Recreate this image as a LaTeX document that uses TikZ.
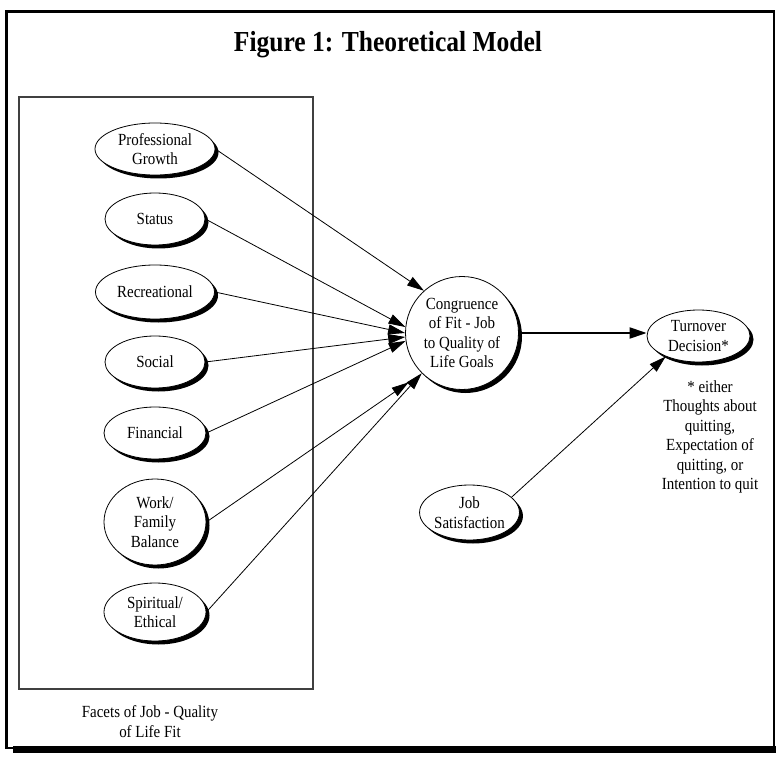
\documentclass[tikz,border=0pt]{standalone}
\usepackage{fontspec}
\setmainfont{Liberation Serif}[FakeStretch=0.88]
\usetikzlibrary{arrows.meta,shapes.geometric,shadows}
\begin{document}
\begin{tikzpicture}[x=1pt,y=-1pt,
  bodytext/.style={font=\fontsize{17}{19.4}\selectfont, align=center},
  facet/.style={ellipse, draw, line width=0.8pt, fill=white, inner sep=0pt, bodytext,
    drop shadow={shadow xshift=3.5pt, shadow yshift=-3.5pt, opacity=1, fill=black}},
  hub/.style={circle, draw, line width=0.8pt, fill=white, inner sep=0pt, bodytext,
    drop shadow={shadow xshift=3.5pt, shadow yshift=-3.5pt, opacity=1, fill=black}},
  link/.style={line width=0.8pt, -{Triangle[length=17pt,width=10pt]}},
  mainlink/.style={line width=2pt, -{Triangle[length=17pt,width=11pt]}},
]
\useasboundingbox (0,0) rectangle (776,767);

% outer frame with its heavy lower edge
\fill (13,746) rectangle (776,753);
\draw[line width=2.5pt] (6.5,11.5) rectangle (774,748);

% title
\node[font=\fontsize{29}{33}\selectfont\bfseries] (title) at (388,45) {Figure 1: Theoretical Model};

% box grouping the facets
\draw[line width=1.2pt, black!75] (19,97) rectangle (313,689);
\node[bodytext] (cap) at (150,721.5) {Facets of Job - Quality\\of Life Fit};

% facets
\node[facet, minimum width=120pt, minimum height=52pt] (pg) at (155,149) {Professional\\Growth};
\node[facet, minimum width=100pt, minimum height=52pt] (st) at (155,219) {Status};
\node[facet, minimum width=119pt, minimum height=54pt] (rc) at (155,292) {Recreational};
\node[facet, minimum width=100pt, minimum height=52pt] (so) at (155,362) {Social};
\node[facet, minimum width=102pt, minimum height=52pt] (fi) at (155,433) {Financial};
\node[facet, minimum width=102pt, minimum height=86pt] (wf) at (155,522) {Work/\\Family\\Balance};
\node[facet, minimum width=102pt, minimum height=58pt] (sp) at (155,612) {Spiritual/\\Ethical};

% congruence, outcome and satisfaction
\node[hub, minimum size=113pt] (cg) at (462,333) {Congruence\\of Fit - Job\\to Quality of\\Life Goals};
\node[facet, minimum width=103pt, minimum height=52pt] (td) at (698.5,336) {Turnover\\Decision*};
\node[facet, minimum width=95pt, minimum height=55pt] (js) at (469.5,512.5) {Job\\Satisfaction};
\node[bodytext] (note) at (710,437) {* either\\Thoughts about\\quitting,\\Expectation of\\quitting, or\\Intention to quit};

% connectors
\draw[link] (pg.east) -- (cg.132);
\draw[link] (st.east) -- (cg.174);
\draw[link] (rc.east) -- (cg.180);
\draw[link] (so.east) -- (cg.184);
\draw[link] (fi.east) -- (cg.188);
\draw[link, shorten >=16pt] (wf.east) -- (cg.225);
\draw[link] (sp.east) -- (cg.225);
\draw[mainlink] (cg.east) -- (cg.east -| td.west);
\draw[link] (js.20) -- (td.212);
\end{tikzpicture}
\end{document}
